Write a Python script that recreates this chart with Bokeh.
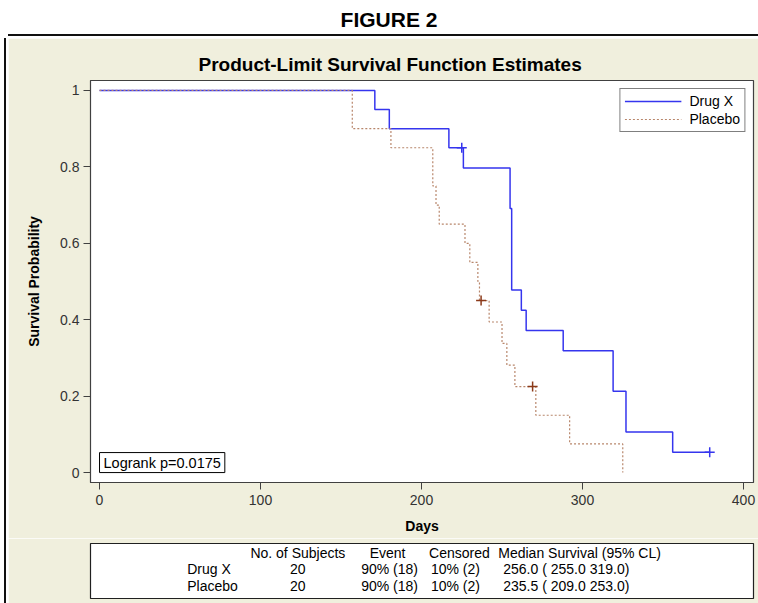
from bokeh.plotting import figure
from bokeh.models import Range1d, FixedTicker, Label, ColumnDataSource, Div
from bokeh.layouts import column, row
from bokeh.embed import file_html
from bokeh.resources import INLINE
from bokeh.core.properties import value

# ---------------- data ----------------
# Kaplan-Meier step values (time in days, survival probability)
drug_t = [0, 171, 180, 217, 226, 255, 256, 262, 265, 288, 319, 327, 356, 379]
drug_s = [1.0, 0.95, 0.90, 0.85, 0.797, 0.691, 0.478, 0.425, 0.372, 0.319, 0.213, 0.106, 0.053, 0.053]
drug_cens_t = [225, 379]
drug_cens_s = [0.85, 0.053]

plac_t = [0, 157, 181, 207, 209, 211, 227, 230, 235, 236, 242, 250, 253, 258, 271, 292, 325]
plac_s = [1.0, 0.90, 0.85, 0.75, 0.70, 0.65, 0.60, 0.55, 0.50, 0.45, 0.394, 0.338, 0.281, 0.225, 0.150, 0.075, 0.0]
plac_cens_t = [237, 269]
plac_cens_s = [0.45, 0.225]

x_ticks = [0, 100, 200, 300, 400]
y_ticks = [0, 0.2, 0.4, 0.6, 0.8, 1.0]
y_tick_labels = ["0", "0.2", "0.4", "0.6", "0.8", "1"]

groups = ["Drug X", "Placebo"]
n_subjects = ["20", "20"]
events = ["90% (18)", "90% (18)"]
censored = ["10% (2)", "10% (2)"]
median_cl = ["256.0 ( 255.0 319.0)", "235.5 ( 209.0 253.0)"]
logrank_text = "Logrank p=0.0175"
figure_title = "FIGURE 2"

# ---------------- styles ----------------
FONT = "Liberation Sans"
BEIGE = "#f0efdd"
BLUE = "#3535ee"
BROWN_LINE = "#b8866b"
BROWN_MARK = "#8b3a1a"
FRAME = "#404040"

# ---------------- header ----------------
hdr = Div(text=(
    '<div style="width:750px;height:36px;margin-left:8px;border-bottom:2px solid #111;'
    'background:white;position:relative;">'
    '<div style="position:absolute;left:0;width:762px;top:9px;text-align:center;'
    'font-family:\'Liberation Sans\',Arial,sans-serif;font-weight:bold;font-size:21px;'
    'line-height:22px;color:black;">' + figure_title + '</div></div>'),
    width=758, height=38, margin=0, styles={"background-color": "white"})

left_strip = Div(text='<div style="width:6px;height:565px;border-right:2px solid #111;'
                      'background:white;"></div>',
                 width=8, height=565, margin=0, styles={"background-color": "white"})

# ---------------- main plot ----------------
p = figure(width=750, height=500, x_range=Range1d(-5.6, 406.2), y_range=Range1d(-0.026, 1.026),
           output_backend="svg", toolbar_location=None,
           min_border_left=82, min_border_right=5, min_border_top=42, min_border_bottom=56,
           background_fill_color="white", border_fill_color=BEIGE,
           outline_line_color=FRAME, outline_line_width=1.2,
           title="Product-Limit Survival Function Estimates")
p.title.text_font = FONT
p.title.text_font_size = "19px"
p.title.text_font_style = "bold"
p.title.text_color = "black"
p.title.align = "left"
p.title.offset = 108
p.title.standoff = 12
p.grid.visible = False

p.step(drug_t, drug_s, mode="after", line_color=BLUE, line_width=1.5, legend_label="Drug X")
p.step(plac_t, plac_s, mode="after", line_color=BROWN_LINE, line_width=1.2, line_dash="2 2",
       legend_label="Placebo")
p.scatter(drug_cens_t, drug_cens_s, marker="cross", size=10, line_color=BLUE, line_width=1.5)
p.scatter(plac_cens_t, plac_cens_s, marker="cross", size=10, line_color=BROWN_MARK, line_width=1.5)

for ax in (p.xaxis[0], p.yaxis[0]):
    ax.axis_line_color = FRAME
    ax.major_tick_line_color = FRAME
    ax.major_tick_in = 0
    ax.major_tick_out = 7
    ax.minor_tick_line_color = None
    ax.major_label_text_font = FONT
    ax.major_label_text_font_size = "14px"
    ax.major_label_text_color = "#333333"
    ax.axis_label_text_font = FONT
    ax.axis_label_text_font_size = "14px"
    ax.axis_label_text_font_style = "bold"
    ax.axis_label_text_color = "black"

p.xaxis.ticker = FixedTicker(ticks=x_ticks)
p.yaxis.ticker = FixedTicker(ticks=y_ticks)
p.yaxis.major_label_overrides = {t: l for t, l in zip(y_ticks, y_tick_labels)}
p.xaxis.axis_label = "Days"
p.yaxis.axis_label = "Survival Probability"
p.xaxis.major_label_standoff = 5
p.yaxis.major_label_standoff = 4
p.xaxis.axis_label_standoff = 10
p.yaxis.axis_label_standoff = 15

leg = p.legend[0]
leg.location = "top_right"
leg.margin = 8
leg.border_line_color = "black"
leg.border_line_width = 1
leg.background_fill_color = "white"
leg.background_fill_alpha = 1
leg.label_text_font = FONT
leg.label_text_font_size = "14px"
leg.label_text_color = "black"
leg.glyph_width = 57
leg.glyph_height = 16
leg.label_height = 16
leg.spacing = 2
leg.padding = 4
leg.label_standoff = 8

p.add_layout(Label(x=0, y=0, text=logrank_text, text_font=FONT, text_font_size="14.5px",
                   text_color="black", text_align="left", text_baseline="bottom",
                   border_line_color="black", border_line_width=1,
                   background_fill_color="white", padding=(4, 2)))

# ---------------- summary table ----------------
tbl = figure(width=750, height=65, x_range=Range1d(0, 665), y_range=Range1d(55, 0),
             output_backend="svg", toolbar_location=None, x_axis_type=None, y_axis_type=None,
             min_border_left=82, min_border_right=3, min_border_top=5, min_border_bottom=5,
             background_fill_color="white", border_fill_color=BEIGE,
             outline_line_color="#202020", outline_line_width=1.2)
tbl.grid.visible = False

row_y = [25, 42]
head_y = 9
tk = dict(text_font=value(FONT), text_font_size="14px", text_color="black", text_baseline="middle")
tbl.text(x=[208], y=[head_y], text=["No. of Subjects"], text_align="center", **tk)
tbl.text(x=[298], y=[head_y], text=["Event"], text_align="center", **tk)
tbl.text(x=[370], y=[head_y], text=["Censored"], text_align="center", **tk)
tbl.text(x=[409], y=[head_y], text=["Median Survival (95% CL)"], text_align="left", **tk)

src = ColumnDataSource(dict(y=row_y, g=groups, n=n_subjects, e=events, c=censored, m=median_cl))
tbl.text(x=97, y="y", text="g", source=src, text_align="left", **tk)
tbl.text(x=208, y="y", text="n", source=src, text_align="center", **tk)
tbl.text(x=300, y="y", text="e", source=src, text_align="center", **tk)
tbl.text(x=366, y="y", text="c", source=src, text_align="center", **tk)
tbl.text(x=414, y="y", text="m", source=src, text_align="left", **tk)

layout = column(hdr, row(left_strip, column(p, tbl, spacing=0), spacing=0), spacing=0)
open("out.html", "w").write(file_html(layout, INLINE))
